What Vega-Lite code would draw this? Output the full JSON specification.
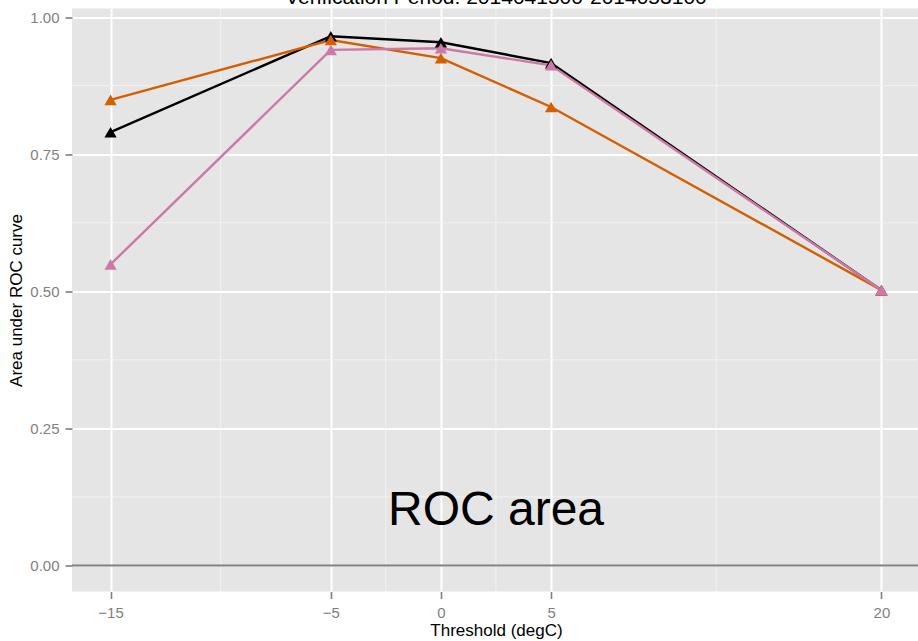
{
  "$schema": "https://vega.github.io/schema/vega-lite/v6.json",
  "autosize": "none",
  "width": 848,
  "height": 583,
  "padding": {"left": 72, "top": 8.5, "right": 0, "bottom": 50},
  "background": "white",
  "config": {
    "view": {"fill": "#E5E5E5", "stroke": null},
    "axis": {
      "domain": false,
      "labelFont": "Liberation Sans",
      "labelFontSize": 15,
      "labelColor": "#7F7F7F",
      "tickColor": "#7F7F7F",
      "tickWidth": 1.6,
      "tickSize": 7,
      "labelPadding": 6,
      "titleFont": "Liberation Sans",
      "titleFontSize": 17,
      "titleFontWeight": "normal",
      "titleColor": "black",
      "gridColor": "white",
      "gridWidth": 2,
      "gridOpacity": 1
    }
  },
  "datasets": {
    "roc": [
      {"series": "Exp 1", "threshold": -15, "auc": 0.790},
      {"series": "Exp 1", "threshold": -5, "auc": 0.965},
      {"series": "Exp 1", "threshold": 0, "auc": 0.954},
      {"series": "Exp 1", "threshold": 5, "auc": 0.916},
      {"series": "Exp 1", "threshold": 20, "auc": 0.502},
      {"series": "Exp 2", "threshold": -15, "auc": 0.849},
      {"series": "Exp 2", "threshold": -5, "auc": 0.958},
      {"series": "Exp 2", "threshold": 0, "auc": 0.925},
      {"series": "Exp 2", "threshold": 5, "auc": 0.836},
      {"series": "Exp 2", "threshold": 20, "auc": 0.502},
      {"series": "Exp 3", "threshold": -15, "auc": 0.549},
      {"series": "Exp 3", "threshold": -5, "auc": 0.940},
      {"series": "Exp 3", "threshold": 0, "auc": 0.943},
      {"series": "Exp 3", "threshold": 5, "auc": 0.912},
      {"series": "Exp 3", "threshold": 20, "auc": 0.502}
    ],
    "minorX": [{"threshold": -10}, {"threshold": -2.5}, {"threshold": 2.5}, {"threshold": 12.5}],
    "minorY": [{"auc": 0.125}, {"auc": 0.375}, {"auc": 0.625}, {"auc": 0.875}],
    "zero": [{"auc": 0}],
    "note": [{"threshold": 2.5, "auc": 0.1, "label": "ROC area"}],
    "heading": [{"threshold": 2.5, "auc": 1.0243, "label": "Verification Period: 2014041500-2014053100"}]
  },
  "layer": [
    {
      "data": {"name": "minorX"},
      "mark": {"type": "rule", "color": "#F2F2F2", "strokeWidth": 1},
      "encoding": {
        "x": {
          "field": "threshold",
          "type": "quantitative",
          "scale": {"domain": [-16.75, 21.75], "nice": false, "zero": false},
          "axis": {"values": [-15, -5, 0, 5, 20], "title": "Threshold (degC)", "grid": true, "format": "d", "labelPadding": 7, "titlePadding": 2}
        }
      }
    },
    {
      "data": {"name": "minorY"},
      "mark": {"type": "rule", "color": "#F2F2F2", "strokeWidth": 1},
      "encoding": {
        "y": {
          "field": "auc",
          "type": "quantitative",
          "scale": {"domain": [-0.0474, 1.0155], "nice": false, "zero": false},
          "axis": {"values": [0, 0.25, 0.5, 0.75, 1], "format": ".2f", "title": "Area under ROC curve", "grid": true, "titlePadding": 4}
        }
      }
    },
    {
      "data": {"name": "zero"},
      "mark": {"type": "rule", "color": "#808080", "strokeWidth": 2},
      "encoding": {
        "y": {"field": "auc", "type": "quantitative", "title": "Area under ROC curve"}
      }
    },
    {
      "data": {"name": "roc"},
      "mark": {"type": "line", "strokeWidth": 2.4},
      "encoding": {
        "x": {"field": "threshold", "type": "quantitative", "title": "Threshold (degC)"},
        "y": {"field": "auc", "type": "quantitative", "title": "Area under ROC curve"},
        "color": {
          "field": "series",
          "type": "nominal",
          "scale": {"domain": ["Exp 1", "Exp 2", "Exp 3"], "range": ["#000000", "#D55E00", "#CC79A7"]},
          "legend": null
        }
      }
    },
    {
      "data": {"name": "roc"},
      "mark": {"type": "point", "shape": "triangle-up", "filled": true, "opacity": 1, "size": 150},
      "encoding": {
        "x": {"field": "threshold", "type": "quantitative", "title": "Threshold (degC)"},
        "y": {"field": "auc", "type": "quantitative", "title": "Area under ROC curve"},
        "color": {"field": "series", "type": "nominal", "legend": null}
      }
    },
    {
      "data": {"name": "note"},
      "mark": {"type": "text", "font": "Liberation Sans", "fontSize": 48, "color": "black", "baseline": "middle", "align": "center"},
      "encoding": {
        "x": {"field": "threshold", "type": "quantitative", "title": "Threshold (degC)"},
        "y": {"field": "auc", "type": "quantitative", "title": "Area under ROC curve"},
        "text": {"field": "label"}
      }
    },
    {
      "data": {"name": "heading"},
      "mark": {"type": "text", "font": "Liberation Sans", "fontSize": 21, "color": "black", "baseline": "alphabetic", "align": "center", "clip": false},
      "encoding": {
        "x": {"field": "threshold", "type": "quantitative", "title": "Threshold (degC)"},
        "y": {"field": "auc", "type": "quantitative", "title": "Area under ROC curve"},
        "text": {"field": "label"}
      }
    }
  ]
}
